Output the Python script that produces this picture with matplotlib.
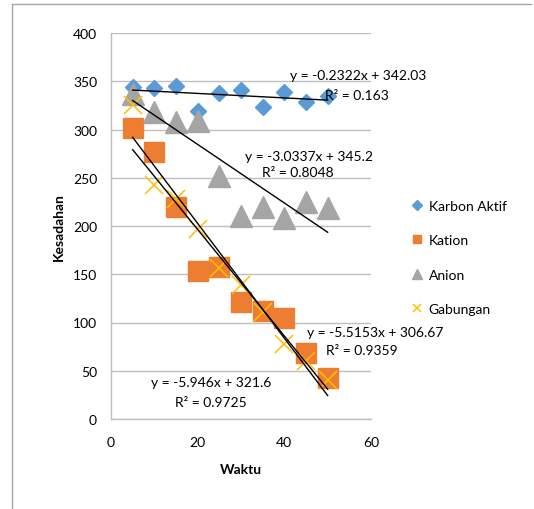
import matplotlib
matplotlib.use("Agg")
import matplotlib.pyplot as plt
from matplotlib.lines import Line2D
import numpy as np

plt.rcParams['font.family'] = ['Lato', 'DejaVu Sans']

# ---- data ----
waktu = [5, 10, 15, 20, 25, 30, 35, 40, 45, 50]
karbon_aktif = [344, 343, 345, 319, 338, 341, 323, 339, 329, 335]
kation = [302, 277, 220, 153, 157, 121, 112, 105, 68, 42]
anion = [337, 318, 308, 309, 252, 210, 220, 208, 225, 219]
gabungan = [325, 242, 228, 197, 156, 139, 111, 78, 60, 40]

series_names = ["Karbon Aktif", "Kation", "Anion", "Gabungan"]
# trendline coefficients (slope, intercept) and R²
slopes = [-0.2322, -5.946, -3.0337, -5.5153]
intercepts = [342.03, 321.6, 345.2, 306.67]
r2 = ["0.163", "0.9725", "0.8048", "0.9359"]
eq_labels = ["y = -0.2322x + 342.03", "y = -5.946x + 321.6",
             "y = -3.0337x + 345.2", "y = -5.5153x + 306.67"]
x_ticks = [0, 20, 40, 60]
y_ticks = [0, 50, 100, 150, 200, 250, 300, 350, 400]

colors = ["#5B9BD5", "#ED7D31", "#A5A5A5", "#FFC000"]

W, H = 534, 510
fig = plt.figure(figsize=(W / 100, H / 100), dpi=100)
ax = fig.add_axes([111 / W, 1 - 420 / H, 260 / W, 386 / H])

x = np.array(waktu)
ax.plot(x, karbon_aktif, linestyle='none', marker='D', ms=8.2, color=colors[0], zorder=3)
ax.plot(x, kation, linestyle='none', marker='s', ms=14.2, color=colors[1], mec=colors[1], zorder=3)
ax.plot(x, anion, linestyle='none', marker='^', ms=15.5, color=colors[2], zorder=3)
ax.plot(x, gabungan, linestyle='none', marker='x', ms=13.5, mew=1.1, color=colors[3], zorder=4)

xt = np.array([min(waktu), max(waktu)])
for s, b in zip(slopes, intercepts):
    ax.plot(xt, s * xt + b, color='black', lw=1.0, zorder=5)

ax.set_xlim(0, 60)
ax.set_ylim(0, 400)
ax.set_xticks(x_ticks)
ax.set_yticks(y_ticks)
ax.tick_params(length=0, labelsize=10, colors='#000000')
ax.tick_params(axis='x', pad=12)
ax.tick_params(axis='y', pad=10)
ax.yaxis.grid(True, color='#BFBFBF', lw=1.0)
ax.set_axisbelow(True)
for sp in ['top', 'right']:
    ax.spines[sp].set_visible(False)
for sp in ['left', 'bottom']:
    ax.spines[sp].set_color('#BFBFBF')
    ax.spines[sp].set_linewidth(1.0)

ax.set_xlabel("Waktu", fontsize=10, fontweight='bold', labelpad=11)
ax.set_ylabel("Kesadahan", fontsize=10, fontweight='bold', labelpad=6)

# trendline labels (data coords)
label_pos = [((57.1, 356.5), (56.65, 335.8)),
             ((23.1, 38.3), (22.96, 17.6)),
             ((45.6, 272.5), (43.0, 256.0)),
             ((60.9, 90.2), (57.9, 71.5))]
for (p1, p2), eq, r in zip(label_pos, eq_labels, r2):
    ax.text(p1[0], p1[1], eq, ha='center', va='center', fontsize=10, clip_on=False, zorder=6)
    ax.text(p2[0], p2[1], "R² = " + r, ha='center', va='center', fontsize=10, clip_on=False, zorder=6)

handles = [
    Line2D([], [], linestyle='none', marker='D', ms=4.8, color=colors[0]),
    Line2D([], [], linestyle='none', marker='s', ms=6, color=colors[1]),
    Line2D([], [], linestyle='none', marker='^', ms=7, color=colors[2]),
    Line2D([], [], linestyle='none', marker='x', ms=6, mew=1.1, color=colors[3]),
]
leg = fig.legend(handles, series_names, loc='upper left', bbox_to_anchor=(408 / W, 1 - 195 / H),
                 frameon=False, fontsize=10, handlelength=0.55, handletextpad=0.55,
                 labelspacing=1.62, borderaxespad=0)

# outer chart border
fig.add_artist(Line2D([12 / W, 12 / W], [0, 1 - 5 / H], color='#A6A6A6', lw=1.0))
fig.add_artist(Line2D([12 / W, 531 / W], [1 - 5 / H, 1 - 5 / H], color='#A6A6A6', lw=1.0))

fig.savefig("out.png", dpi=100)
